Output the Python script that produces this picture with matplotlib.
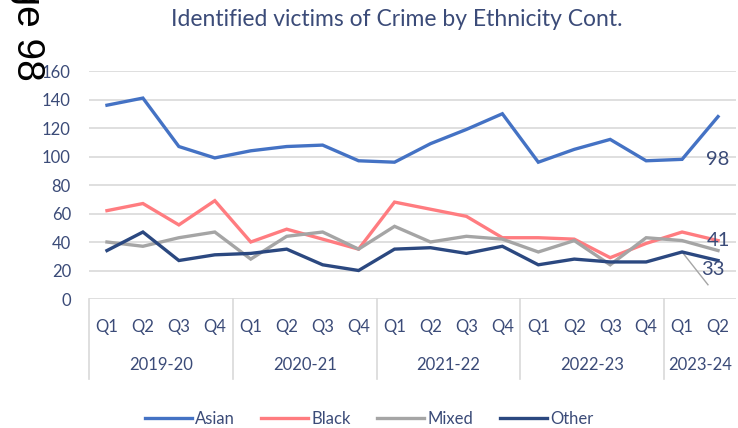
import numpy as np
import matplotlib.pyplot as plt

plt.rcParams['font.family'] = ['Lato', 'DejaVu Sans']

# quarterly counts, 2019-20 Q1 through 2023-24 Q2
quarters = ['Q1', 'Q2', 'Q3', 'Q4'] * 4 + ['Q1', 'Q2']
years = ['2019-20', '2020-21', '2021-22', '2022-23', '2023-24']
year_len = [4, 4, 4, 4, 2]

asian = [136, 141, 107, 99, 104, 107, 108, 97, 96, 109, 119, 130, 96, 105, 112, 97, 98, 128]
black = [62, 67, 52, 69, 40, 49, 42, 35, 68, 63, 58, 43, 43, 42, 29, 39, 47, 41]
mixed = [40, 37, 43, 47, 28, 44, 47, 35, 51, 40, 44, 42, 33, 41, 24, 43, 41, 34]
other = [34, 47, 27, 31, 32, 35, 24, 20, 35, 36, 32, 37, 24, 28, 26, 26, 33, 27]

txt = '#3B4B78'
grid = '#D9D9D9'

fig = plt.figure(figsize=(7.38, 4.28), dpi=100)
ax = fig.add_axes([89/738, 1 - 299/428, 647/738, 228/428])

x = np.arange(len(quarters))
lw = 2.4
ax.plot(x, asian, color='#4472C4', lw=lw, label='Asian', solid_joinstyle='miter')
ax.plot(x, black, color='#FF7C80', lw=lw, label='Black', solid_joinstyle='miter')
ax.plot(x, mixed, color='#A5A5A5', lw=lw, label='Mixed', solid_joinstyle='miter')
ax.plot(x, other, color='#2B4880', lw=lw, label='Other', solid_joinstyle='miter')

ax.set_xlim(-0.5, len(quarters) - 0.5)
ax.set_ylim(0, 160)
yt = np.arange(0, 161, 20)
for v in yt:
    ax.axhline(v, color=grid, lw=1.2, zorder=0)
ax.set_yticks(yt)
ax.tick_params(axis='y', length=0, pad=13, labelsize=12, labelcolor=txt)
ax.set_xticks([])
for s in ax.spines.values():
    s.set_visible(False)

# two-level category axis
tr = ax.get_xaxis_transform()
for i, q in enumerate(quarters):
    ax.text(i, -0.123, q, transform=tr, ha='center', va='center',
            fontsize=12, color=txt)
start = 0
bounds = [-0.5]
for y, n in zip(years, year_len):
    ax.text(start + (n - 1) / 2, -0.29, y, transform=tr, ha='center',
            va='center', fontsize=12, color=txt)
    start += n
    bounds.append(start - 0.5)
for b in bounds[:-1]:
    ax.plot([b, b], [0, -0.35], transform=tr, color=grid, lw=1.2, clip_on=False)

# data labels, the 33 one sits on a leader line
ax.text(17, 98, '98', ha='center', va='center', fontsize=14.5, color=txt)
ax.text(17, 41, '41', ha='center', va='center', fontsize=14.5, color=txt)
ax.text(16.85, 21, '33', ha='center', va='center', fontsize=14.5, color=txt)
ax.plot([16, 16.72], [33, 10], color='#A5A5A5', lw=1, zorder=1)

fig.text(397/738, 1 - 20/428, 'Identified victims of Crime by Ethnicity Cont.',
         ha='center', va='center', fontsize=16.5, color=txt)
fig.text(27/738, 1 - 81/428, 'Page 98', rotation=-90, ha='center', va='bottom',
         fontsize=28, color='black', family=['Liberation Sans', 'DejaVu Sans'])

fig.legend(loc='center', bbox_to_anchor=(0.5, 1 - 419/428), ncol=4, frameon=False,
           fontsize=12, labelcolor=txt, handlelength=2.8, handletextpad=0.2,
           columnspacing=1.6)

fig.savefig('out.png', dpi=100)
